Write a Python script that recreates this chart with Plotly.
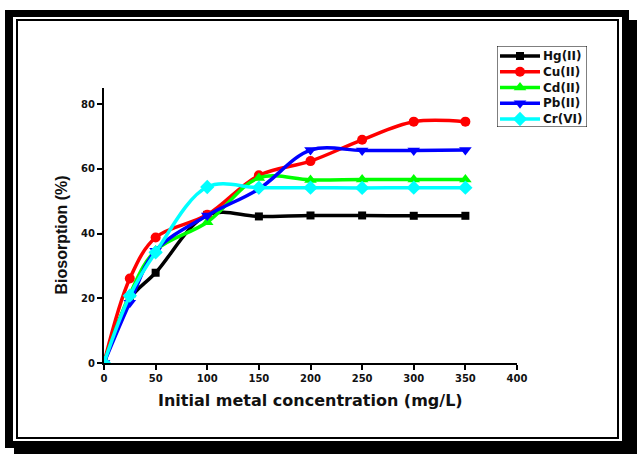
import plotly.graph_objects as go

conc = [0, 25, 50, 100, 150, 200, 250, 300, 350]
hg = [0, 19.8, 27.9, 45.8, 45.3, 45.6, 45.6, 45.5, 45.5]
cu = [0, 26.1, 38.8, 45.8, 58.0, 62.4, 69.0, 74.6, 74.6]
cd = [0, 21.2, 34.8, 43.5, 57.2, 56.6, 56.7, 56.7, 56.7]
pb = [0, 18.6, 34.7, 45.6, 53.8, 65.8, 65.7, 65.7, 65.8]
cr = [0, 20.8, 34.2, 54.4, 54.2, 54.2, 54.1, 54.2, 54.2]

names = ["Hg(II)", "Cu(II)", "Cd(II)", "Pb(II)", "Cr(VI)"]
series = [hg, cu, cd, pb, cr]
colors = ["#000000", "#FF0000", "#00FF00", "#0000FF", "#00FFFF"]
symbols = ["square", "circle", "triangle-up", "triangle-down", "diamond"]
sizes = [8, 10, 11, 11, 11]
xticks = [0, 50, 100, 150, 200, 250, 300, 350, 400]
yticks = [0, 20, 40, 60, 80]
xtitle = "Initial metal concentration (mg/L)"
ytitle = "Biosorption (%)"

W, H = 637, 454
# plot area in pixels
PL, PR, PT, PB = 104, 517, 88, 363
# legend box in pixels
LX0, LX1, LY0, LY1 = 497, 587, 46, 127


def fx(x):
    return x / W


def fy(y):
    return 1 - y / H


wide = "DejaVu Sans, Verdana, sans-serif"
arial = "Liberation Sans, Arial, sans-serif"

fig = go.Figure()
for n, s, c, m, sz in zip(names, series, colors, symbols, sizes):
    fig.add_trace(go.Scatter(
        x=conc, y=s, name=n, mode="lines+markers",
        line=dict(color=c, width=3.5, shape="spline", smoothing=1),
        marker=dict(symbol=m, size=sz, color=c),
        xaxis="x", yaxis="y",
    ))

# legend drawn in a small inset axis measured in pixels
annotations = []
for i, (n, c, m, sz) in enumerate(zip(names, colors, symbols, sizes)):
    yc = 56 + i * 15.75
    fig.add_trace(go.Scatter(
        x=[500, 540], y=[yc, yc], mode="lines", line=dict(color=c, width=3.5),
        xaxis="x2", yaxis="y2", hoverinfo="skip",
    ))
    fig.add_trace(go.Scatter(
        x=[520], y=[yc], mode="markers", marker=dict(symbol=m, size=sz, color=c),
        xaxis="x2", yaxis="y2", hoverinfo="skip",
    ))
    annotations.append(dict(
        x=541, y=yc, xref="x2", yref="y2", text=n, showarrow=False,
        xanchor="left", yanchor="middle",
        font=dict(family=wide, size=12, weight="bold", color="#111111"),
    ))

annotations.append(dict(
    x=fx(310.5), y=fy(400), xref="paper", yref="paper", text=xtitle, showarrow=False,
    xanchor="center", yanchor="middle",
    font=dict(family=wide, size=16, weight="bold", color="#111111"),
))
annotations.append(dict(
    x=fx(61), y=fy(235.5), xref="paper", yref="paper", text=ytitle, showarrow=False,
    xanchor="center", yanchor="middle", textangle=-90,
    font=dict(family=arial, size=16, weight="bold", color="#111111"),
))

shapes = [
    dict(type="rect", xref="paper", yref="paper", x0=fx(14), x1=fx(637), y0=fy(20), y1=fy(454),
         fillcolor="black", line=dict(width=0), layer="below"),
    dict(type="rect", xref="paper", yref="paper", x0=fx(5), x1=fx(629), y0=fy(10), y1=fy(448),
         fillcolor="black", line=dict(width=0), layer="below"),
    dict(type="rect", xref="paper", yref="paper", x0=fx(13), x1=fx(622), y0=fy(17), y1=fy(441),
         fillcolor="white", line=dict(width=0), layer="below"),
    dict(type="rect", xref="paper", yref="paper", x0=fx(17), x1=fx(618), y0=fy(20), y1=fy(438),
         fillcolor="rgba(0,0,0,0)", line=dict(color="black", width=2), layer="below"),
    dict(type="rect", xref="x2", yref="y2", x0=LX0, x1=LX1, y0=LY0, y1=LY1,
         fillcolor="white", line=dict(color="black", width=1), layer="below"),
]

fig.update_layout(
    width=W, height=H,
    margin=dict(l=0, r=0, t=0, b=0, pad=0),
    paper_bgcolor="white",
    plot_bgcolor="rgba(0,0,0,0)",
    font=dict(family=arial, color="#111111"),
    shapes=shapes,
    annotations=annotations,
    showlegend=False,
    xaxis=dict(
        domain=[fx(PL), fx(PR)], anchor="y",
        range=[0, 400], tickmode="array", tickvals=xticks,
        showline=True, linecolor="black", linewidth=2, ticks="outside", ticklen=5,
        tickwidth=2, tickcolor="black", showgrid=False, zeroline=False,
        tickfont=dict(family=wide, size=10, weight="bold"),
        automargin=False,
    ),
    yaxis=dict(
        domain=[fy(PB), fy(PT)], anchor="x",
        range=[0, 85], tickmode="array", tickvals=yticks,
        showline=True, linecolor="black", linewidth=2, ticks="outside", ticklen=5,
        tickwidth=2, tickcolor="black", showgrid=False, zeroline=False,
        tickfont=dict(family=wide, size=10, weight="bold"),
        automargin=False,
    ),
    xaxis2=dict(domain=[fx(LX0), fx(LX1)], anchor="y2", range=[LX0, LX1], visible=False, fixedrange=True),
    yaxis2=dict(domain=[fy(LY1), fy(LY0)], anchor="x2", range=[LY1, LY0], visible=False, fixedrange=True),
)

fig.write_html("out.html")
